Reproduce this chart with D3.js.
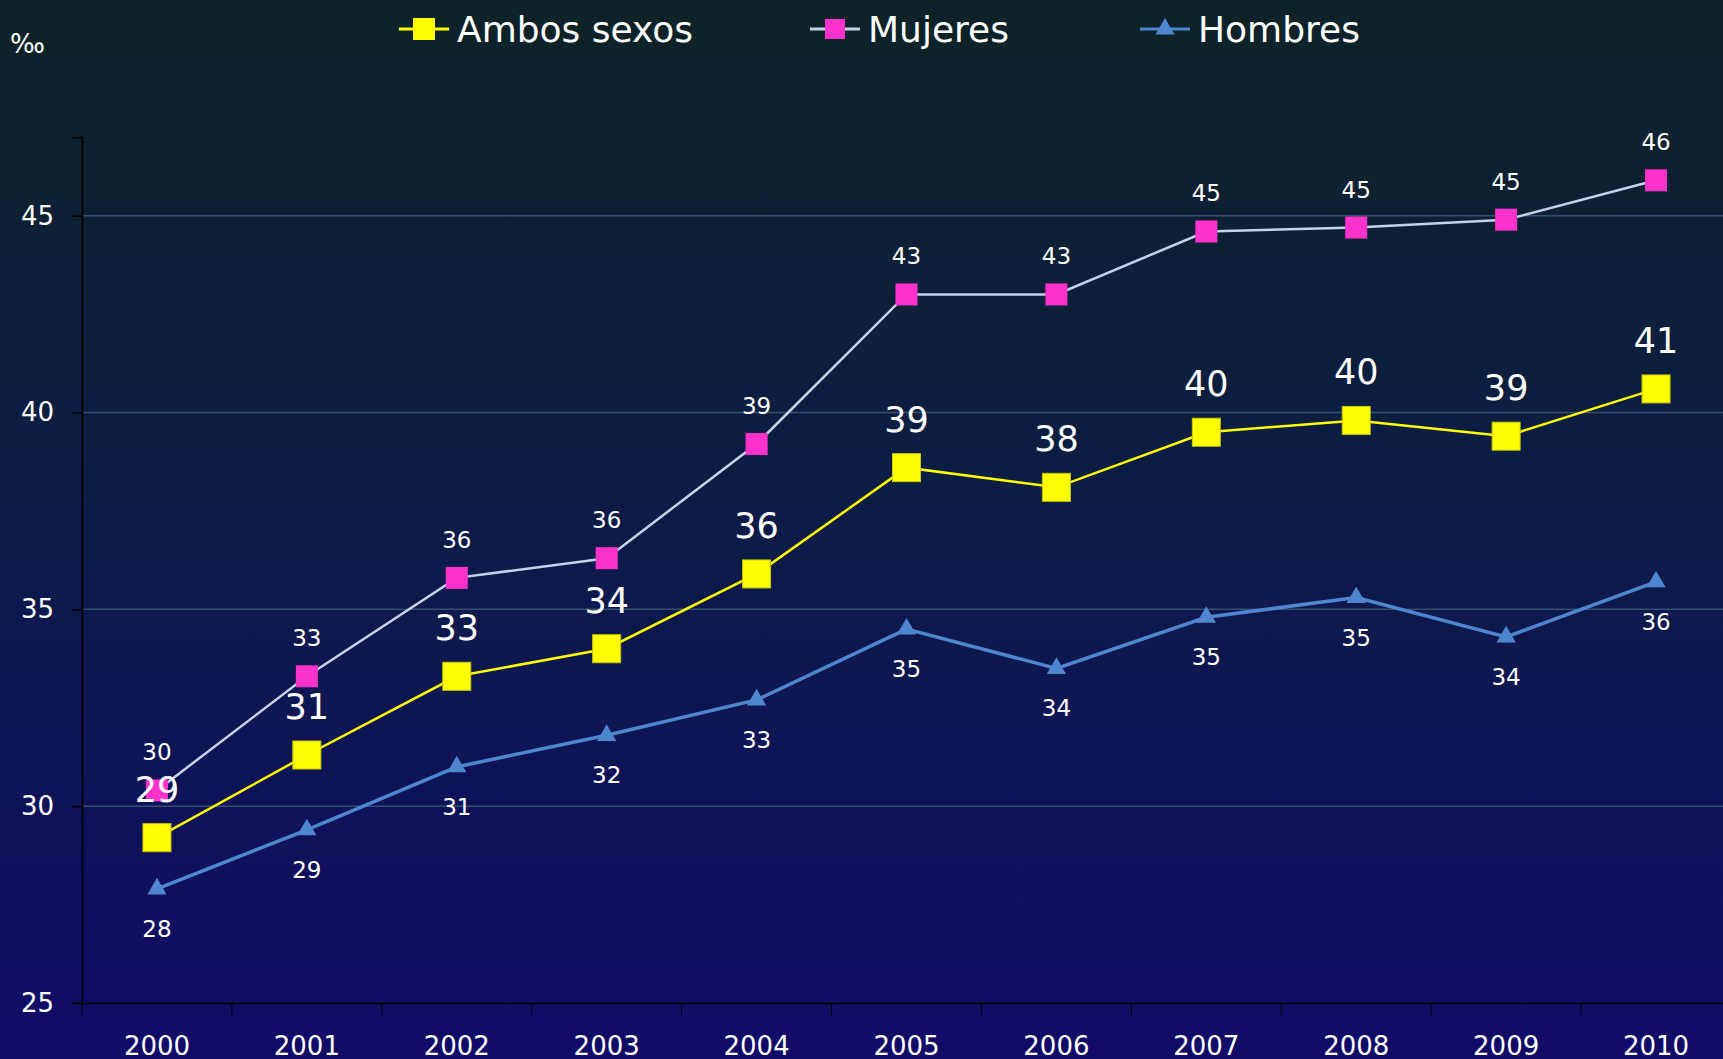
<!DOCTYPE html>
<html>
<head>
<meta charset="utf-8">
<script src="https://cdn.jsdelivr.net/npm/d3@7"></script>
<style>
  body { margin: 0; overflow: hidden; }
  svg { display: block; font-family: "DejaVu Sans", sans-serif; }
</style>
</head>
<body>
<svg width="1723" height="1059"></svg>
<script>
const years = ["2000", "2001", "2002", "2003", "2004", "2005", "2006", "2007", "2008", "2009", "2010"];
const ambos = [29.2, 31.3, 33.3, 34.0, 35.9, 38.6, 38.1, 39.5, 39.8, 39.4, 40.6];
const mujeres = [30.4, 33.3, 35.8, 36.3, 39.2, 43.0, 43.0, 44.6, 44.7, 44.9, 45.9];
const hombres = [27.9, 29.4, 31.0, 31.8, 32.7, 34.5, 33.5, 34.8, 35.3, 34.3, 35.7];
const ambosLabels = ["29", "31", "33", "34", "36", "39", "38", "40", "40", "39", "41"];
const mujeresLabels = ["30", "33", "36", "36", "39", "43", "43", "45", "45", "45", "46"];
const hombresLabels = ["28", "29", "31", "32", "33", "35", "34", "35", "35", "34", "36"];
const yTicks = [25, 30, 35, 40, 45];

const svg = d3.select("svg");
const width = 1723;
const height = 1059;

const margin = { top: 137, right: -8, bottom: 56, left: 82 };

// background gradient
const defs = svg.append("defs");
const grad = defs.append("linearGradient")
    .attr("id", "bg")
    .attr("x1", 0).attr("y1", 0).attr("x2", 0).attr("y2", 1);
grad.append("stop").attr("offset", "0%").attr("stop-color", "#0d2327");
grad.append("stop").attr("offset", "45%").attr("stop-color", "#0c1d44");
grad.append("stop").attr("offset", "100%").attr("stop-color", "#110b68");

svg.append("rect")
    .attr("width", width)
    .attr("height", height)
    .attr("fill", "url(#bg)");

const xScale = d3.scaleBand()
    .domain(years)
    .range([margin.left, width - margin.right]);

const yScale = d3.scaleLinear()
    .domain([25, 47])
    .range([height - margin.bottom, margin.top]);

const cx = d => xScale(d) + xScale.bandwidth() / 2;

// gridlines
svg.append("g")
    .selectAll("line")
    .data(yTicks.slice(1))
    .enter()
    .append("line")
    .attr("x1", margin.left)
    .attr("x2", width)
    .attr("y1", d => yScale(d))
    .attr("y2", d => yScale(d))
    .attr("stroke", "#34506e")
    .attr("stroke-width", 1.5);

// axes
const yAxis = svg.append("g")
    .attr("transform", `translate(${margin.left},0)`)
    .call(d3.axisLeft(yScale).tickValues(yTicks).tickSize(10).tickPadding(18));

const xAxis = svg.append("g")
    .attr("transform", `translate(0,${height - margin.bottom})`)
    .call(d3.axisBottom(xScale).tickSize(0).tickPadding(39));

xAxis.selectAll(".sep")
    .data(years)
    .enter()
    .append("line")
    .attr("class", "sep")
    .attr("x1", d => xScale(d))
    .attr("x2", d => xScale(d))
    .attr("y1", 0)
    .attr("y2", 12)
    .attr("stroke", "#000");

[yAxis, xAxis].forEach(function(g) {
    g.selectAll(".domain").attr("stroke", "#000").attr("stroke-width", 1.5);
    g.selectAll(".tick line").attr("stroke", "#000").attr("stroke-width", 1.5);
    g.selectAll("text")
        .attr("fill", "#fff")
        .style("font-size", "26px")
        .style("font-family", "DejaVu Sans, sans-serif");
});
xAxis.selectAll(".tick text").attr("dy", "0.5em");

const line = d3.line()
    .x((d, i) => cx(years[i]))
    .y(d => yScale(d));

// Mujeres
svg.append("path")
    .datum(mujeres)
    .attr("d", line)
    .attr("fill", "none")
    .attr("stroke", "#c3d3ea")
    .attr("stroke-width", 2.5);

svg.selectAll(".mujM")
    .data(mujeres)
    .enter()
    .append("rect")
    .attr("x", (d, i) => cx(years[i]) - 11)
    .attr("y", d => yScale(d) - 11)
    .attr("width", 22)
    .attr("height", 22)
    .attr("fill", "#ff33cc");

// Hombres
svg.append("path")
    .datum(hombres)
    .attr("d", line)
    .attr("fill", "none")
    .attr("stroke", "#4f86d0")
    .attr("stroke-width", 3.5);

const tri = d3.symbol().type(d3.symbolTriangle).size(160);
svg.selectAll(".homM")
    .data(hombres)
    .enter()
    .append("path")
    .attr("d", tri)
    .attr("transform", (d, i) => `translate(${cx(years[i])},${yScale(d)})`)
    .attr("fill", "#4f86d0");

// Ambos
svg.append("path")
    .datum(ambos)
    .attr("d", line)
    .attr("fill", "none")
    .attr("stroke", "#ffff00")
    .attr("stroke-width", 2.5);

svg.selectAll(".ambM")
    .data(ambos)
    .enter()
    .append("rect")
    .attr("x", (d, i) => cx(years[i]) - 14)
    .attr("y", d => yScale(d) - 14)
    .attr("width", 28)
    .attr("height", 28)
    .attr("fill", "#ffff00")
    .attr("stroke", "#c8c800")
    .attr("stroke-width", 1);

// data labels
function labels(values, texts, dy, size) {
    svg.append("g")
        .selectAll("text")
        .data(values)
        .enter()
        .append("text")
        .attr("x", (d, i) => cx(years[i]))
        .attr("y", d => yScale(d) + dy)
        .attr("text-anchor", "middle")
        .attr("dominant-baseline", "central")
        .attr("fill", "#fff")
        .style("font-size", size + "px")
        .text((d, i) => texts[i]);
}
labels(mujeres, mujeresLabels, -38, 23);
labels(hombres, hombresLabels, 40, 23);
labels(ambos, ambosLabels, -48, 35);

// unit
svg.append("text")
    .attr("x", 10)
    .attr("y", 44)
    .attr("dominant-baseline", "central")
    .attr("fill", "#fff")
    .style("font-size", "26px")
    .text("‰");

// legend
const legend = [
    { name: "Ambos sexos", x: 424, color: "#ffff00", line: "#ffff00", shape: "bigsq" },
    { name: "Mujeres", x: 835, color: "#ff33cc", line: "#c3d3ea", shape: "sq" },
    { name: "Hombres", x: 1165, color: "#4f86d0", line: "#4f86d0", shape: "tri" }
];
const lg = svg.append("g");
legend.forEach(function(d) {
    lg.append("line")
        .attr("x1", d.x - 25).attr("x2", d.x + 25)
        .attr("y1", 29).attr("y2", 29)
        .attr("stroke", d.line)
        .attr("stroke-width", 3);
    if (d.shape === "tri") {
        lg.append("path")
            .attr("d", tri)
            .attr("transform", `translate(${d.x},29)`)
            .attr("fill", d.color);
    } else {
        const s = d.shape === "bigsq" ? 22 : 20;
        lg.append("rect")
            .attr("x", d.x - s / 2).attr("y", 29 - s / 2)
            .attr("width", s).attr("height", s)
            .attr("fill", d.color);
    }
    lg.append("text")
        .attr("x", d.x + 33)
        .attr("y", 29)
        .attr("dominant-baseline", "central")
        .attr("fill", "#fff")
        .style("font-size", "36px")
        .text(d.name);
});
</script>
</body>
</html>
